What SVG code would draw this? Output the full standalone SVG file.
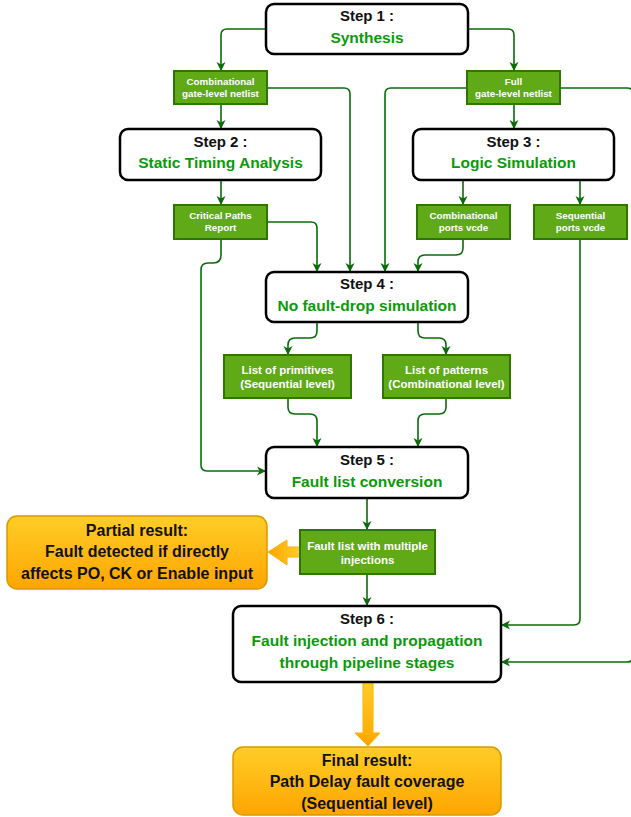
<svg xmlns="http://www.w3.org/2000/svg" width="631" height="817" viewBox="0 0 631 817">
<defs>
<marker id="ah" markerWidth="10" markerHeight="10" refX="9" refY="5" orient="auto" markerUnits="userSpaceOnUse">
<path d="M0,0.5 L9,5 L0,9.5 L2.5,5 z" fill="#0b6b0b"/>
</marker>
<linearGradient id="og" x1="0" y1="0" x2="0" y2="1">
<stop offset="0" stop-color="#ffcd28"/>
<stop offset="1" stop-color="#ffa500"/>
</linearGradient>
<linearGradient id="ogh" x1="0" y1="0" x2="1" y2="0">
<stop offset="0" stop-color="#ffa500"/>
<stop offset="1" stop-color="#ffcd28"/>
</linearGradient>
</defs>
<style>
text{font-family:"Liberation Sans",Arial,sans-serif;font-weight:bold;text-anchor:middle}
.step{fill:#fff;stroke:#000;stroke-width:2.5}
.gbox{fill:#60a917;stroke:#2d7600;stroke-width:2}
.obox{fill:url(#og);stroke:#d79b00;stroke-width:1.5}
.t{font-size:15px;fill:#111}
.g{font-size:15.5px;fill:#0a9a0a}
.w{font-size:9.8px;fill:#fff}
.w2{font-size:11.5px;fill:#fff}
.o{font-size:16px;fill:#111}
.c path{fill:none;stroke:#0b6b0b;stroke-width:1.6;marker-end:url(#ah)}
</style>
<rect width="631" height="817" fill="#fff"/>

<g class="c" id="connectors">
<path d="M266,29 H227 Q221,29 221,35 V71"/>
<path d="M468,29 H508 Q514,29 514,35 V71"/>
<path d="M267,88 H344 Q350,88 350,94 V272"/>
<path d="M467,88 H391 Q385,88 385,94 V272"/>
<path d="M560,88 H627 Q633,88 633,94 V656 Q633,662 627,662 H501"/>
<path d="M221,104 V129"/>
<path d="M514,104 V129"/>
<path d="M221,180 V205"/>
<path d="M463,180 V205"/>
<path d="M580,180 V205"/>
<path d="M267,222 H311 Q317,222 317,228 V272"/>
<path d="M221,239 V255 Q221,263 213,263 H208 Q201,263 201,270 V465 Q201,471 207,471 H266"/>
<path d="M463,239 V248 Q463,255 456,255 H425 Q418,255 418,262 V272"/>
<path d="M580,239 V619 Q580,625 574,625 H501"/>
<path d="M317,322 V331 Q317,338 310,338 H295 Q288,338 288,345 V355"/>
<path d="M418,322 V331 Q418,338 425,338 H439 Q446,338 446,345 V355"/>
<path d="M288,398 V407 Q288,414 295,414 H310 Q317,414 317,421 V447"/>
<path d="M446,398 V407 Q446,414 439,414 H425 Q418,414 418,421 V447"/>
<path d="M367,498 V530"/>
<path d="M367,574 V606"/>
</g>

<g id="arrow-partial">
<polygon points="300,547 287,547 287,540 268,552 287,565 287,557 300,557" fill="url(#ogh)" stroke="#ffb000" stroke-width="1"/>
</g>
<g id="arrow-final">
<polygon points="363,682 373,682 373,733 380,733 368,746 355,733 363,733" fill="url(#og)" stroke="#ffb000" stroke-width="1"/>
</g>

<g id="step1"><rect class="step" x="266" y="4" width="202" height="50" rx="8"/>
<text class="t" x="367" y="21">Step 1 :</text><text class="g" x="367" y="43">Synthesis</text></g>

<g id="comb-netlist"><rect class="gbox" x="174" y="71" width="93" height="33"/>
<text class="w" x="220.5" y="85">Combinational</text><text class="w" x="220.5" y="97">gate-level netlist</text></g>

<g id="full-netlist"><rect class="gbox" x="467" y="71" width="93" height="33"/>
<text class="w" x="513.5" y="85">Full</text><text class="w" x="513.5" y="97">gate-level netlist</text></g>

<g id="step2"><rect class="step" x="120" y="129" width="201" height="51" rx="8"/>
<text class="t" x="220.5" y="147">Step 2 :</text><text class="g" x="220.5" y="168">Static Timing Analysis</text></g>

<g id="step3"><rect class="step" x="413" y="129" width="201" height="51" rx="8"/>
<text class="t" x="513.5" y="147">Step 3 :</text><text class="g" x="513.5" y="168">Logic Simulation</text></g>

<g id="critical-paths"><rect class="gbox" x="174" y="205" width="93" height="34"/>
<text class="w" x="220.5" y="219">Critical Paths</text><text class="w" x="220.5" y="231">Report</text></g>

<g id="comb-ports"><rect class="gbox" x="417" y="205" width="93" height="34"/>
<text class="w" x="463.5" y="219">Combinational</text><text class="w" x="463.5" y="231">ports vcde</text></g>

<g id="seq-ports"><rect class="gbox" x="534" y="205" width="93" height="34"/>
<text class="w" x="580.5" y="219">Sequential</text><text class="w" x="580.5" y="231">ports vcde</text></g>

<g id="step4"><rect class="step" x="266" y="272" width="202" height="50" rx="8"/>
<text class="t" x="367" y="289">Step 4 :</text><text class="g" x="367" y="311">No fault-drop simulation</text></g>

<g id="list-primitives"><rect class="gbox" x="224" y="355" width="127" height="43"/>
<text class="w2" x="287.5" y="374">List of primitives</text><text class="w2" x="287.5" y="388">(Sequential level)</text></g>

<g id="list-patterns"><rect class="gbox" x="383" y="355" width="127" height="43"/>
<text class="w2" x="446.5" y="374">List of patterns</text><text class="w2" x="446.5" y="388">(Combinational level)</text></g>

<g id="step5"><rect class="step" x="266" y="447" width="202" height="51" rx="8"/>
<text class="t" x="367" y="465">Step 5 :</text><text class="g" x="367" y="487">Fault list conversion</text></g>

<g id="fault-list"><rect class="gbox" x="300" y="530" width="135" height="44"/>
<text class="w2" x="367.5" y="550">Fault list with multiple</text><text class="w2" x="367.5" y="564">injections</text></g>

<g id="partial-result"><rect class="obox" x="7" y="516" width="260" height="73" rx="10"/>
<text class="o" x="137" y="535.5">Partial result:</text><text class="o" x="137" y="557">Fault detected if directly</text><text class="o" x="137" y="579">affects PO, CK or Enable input</text></g>

<g id="step6"><rect class="step" x="233" y="606" width="268" height="76" rx="8"/>
<text class="t" x="367" y="624">Step 6 :</text><text class="g" x="367" y="646">Fault injection and propagation</text><text class="g" x="367" y="668">through pipeline stages</text></g>

<g id="final-result"><rect class="obox" x="233" y="747" width="268" height="68" rx="10"/>
<text class="o" x="367" y="765.5">Final result:</text><text class="o" x="367" y="787">Path Delay fault coverage</text><text class="o" x="367" y="808.5">(Sequential level)</text></g>
</svg>
